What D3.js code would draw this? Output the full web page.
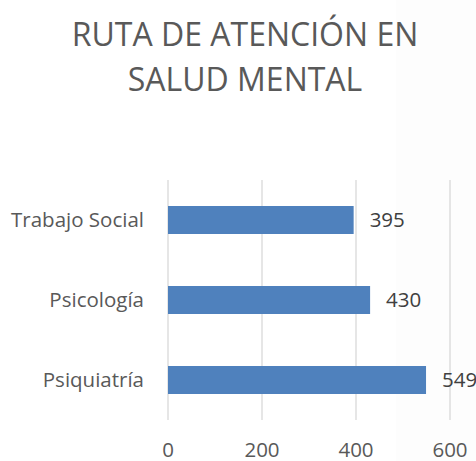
<!DOCTYPE html>
<html><head><meta charset="utf-8">
<script src="https://cdn.jsdelivr.net/npm/d3@7"></script>
<style>html,body{margin:0;padding:0;background:#fff;}svg{display:block;}</style>
</head><body>
<script>
const categories = ["Trabajo Social", "Psicología", "Psiquiatría"];
const values = [395, 430, 549];
const ticks = [0, 200, 400, 600];
const titleLines = ["RUTA DE ATENCIÓN EN", "SALUD MENTAL"];

const W = 476, H = 461;
const font = "'Open Sans', sans-serif";
const svg = d3.select("body").append("svg").attr("width", W).attr("height", H);
svg.append("rect").attr("width", W).attr("height", H).attr("fill", "#fff");
svg.append("rect").attr("x", 396).attr("width", W - 396).attr("height", H).attr("fill", "#fdfdfd");

const x = d3.scaleLinear().domain([0, 600]).range([168, 450]);
const y = d3.scaleBand().domain(categories).range([180, 420]).paddingInner(0.65).paddingOuter(0.325);

svg.append("g").selectAll("line").data(ticks).join("line")
  .attr("x1", d => x(d)).attr("x2", d => x(d))
  .attr("y1", 180).attr("y2", 420)
  .attr("stroke", "#d9d9d9").attr("stroke-width", 1.3);

svg.append("g").selectAll("rect").data(values).join("rect")
  .attr("x", x(0)).attr("y", (d, i) => y(categories[i]))
  .attr("width", d => x(d) - x(0)).attr("height", y.bandwidth())
  .attr("fill", "#4f81bd");

svg.append("g").selectAll("text").data(values).join("text")
  .attr("x", d => x(d) + 16).attr("y", (d, i) => y(categories[i]) + y.bandwidth() / 2)
  .attr("dy", "0.36em").attr("fill", "#404040")
  .style("font-family", font).style("font-size", "20.5px")
  .text(d => d);

svg.append("g").selectAll("text").data(categories).join("text")
  .attr("x", 144).attr("y", d => y(d) + y.bandwidth() / 2)
  .attr("dy", "0.36em").attr("text-anchor", "end").attr("fill", "#595959")
  .style("font-family", font).style("font-size", "20.5px")
  .text(d => d);

svg.append("g").selectAll("text").data(ticks).join("text")
  .attr("x", d => x(d)).attr("y", 457)
  .attr("text-anchor", "middle").attr("fill", "#595959")
  .style("font-family", font).style("font-size", "20.5px")
  .text(d => d);

svg.append("g").selectAll("text").data(titleLines).join("text")
  .attr("x", 245).attr("y", (d, i) => 46 + i * 45)
  .attr("text-anchor", "middle").attr("fill", "#595959")
  .style("font-family", font).style("font-size", "32px")
  .text(d => d);
</script>
</body></html>
